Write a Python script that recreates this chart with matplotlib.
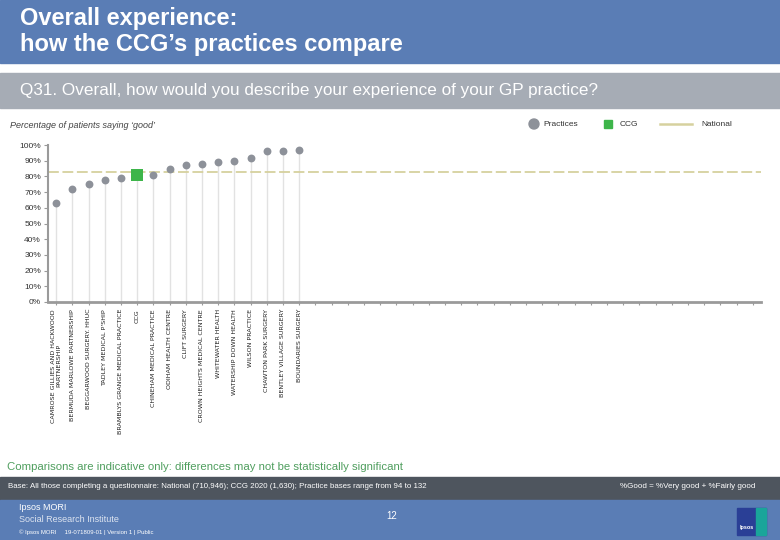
"""
Overall experience chart: practices vs CCG vs national (Q31).
"""

import matplotlib
matplotlib.use("Agg")
import matplotlib.pyplot as plt
from matplotlib.patches import Rectangle, Circle
from matplotlib.lines import Line2D

# ---------------------------------------------------------------------------
# Data
# ---------------------------------------------------------------------------
labels = [
    "CAMROSE GILLIES AND HACKWOOD\nPARTNERSHIP",
    "BERMUDA MARLOWE PARTNERSHIP",
    "BEGGARWOOD SURGERY. HHUC",
    "TADLEY MEDICAL P'SHIP",
    "BRAMBLYS GRANGE MEDICAL PRACTICE",
    "CCG",
    "CHINEHAM MEDICAL PRACTICE",
    "ODIHAM HEALTH CENTRE",
    "CLIFT SURGERY",
    "CROWN HEIGHTS MEDICAL CENTRE",
    "WHITEWATER HEALTH",
    "WATERSHIP DOWN HEALTH",
    "WILSON PRACTICE",
    "CHAWTON PARK SURGERY",
    "BENTLEY VILLAGE SURGERY",
    "BOUNDARIES SURGERY",
]
values = [63, 72, 75, 78, 79, 81, 81, 85, 87, 88, 89, 90, 92, 96, 96, 97]
ccg_index = 5
national = 83
n_slots = 44

yticks = [0, 10, 20, 30, 40, 50, 60, 70, 80, 90, 100]

BLUE = "#5a7db5"
GREY_BAR = "#a6acb5"
DARK_BAR = "#4e555e"
GREEN = "#3db54a"
POINT = "#8d9199"
NAT = "#d6d19e"
FONT = "Liberation Sans"

fig = plt.figure(figsize=(7.8, 5.4), dpi=100)

# full-figure overlay in pixel coordinates for banners and text
bg = fig.add_axes([0, 0, 1, 1], zorder=0)
bg.set_xlim(0, 780)
bg.set_ylim(540, 0)
bg.axis("off")

bg.add_patch(Rectangle((0, 0), 780, 63, color=BLUE))
bg.add_patch(Rectangle((0, 73), 780, 35, color=GREY_BAR))
bg.add_patch(Rectangle((0, 477), 780, 23, color=DARK_BAR))
bg.add_patch(Rectangle((0, 500), 780, 40, color=BLUE))

bg.text(20, 18, "Overall experience:", color="white", fontsize=17, weight="bold",
        family=FONT, va="center", ha="left")
bg.text(20, 45, "how the CCG\u2019s practices compare", color="white", fontsize=17,
        weight="bold", family=FONT, va="center", ha="left")
bg.text(20, 91, "Q31. Overall, how would you describe your experience of your GP practice?",
        color="white", fontsize=12.3, family=FONT, va="center", ha="left")
bg.text(10, 125, "Percentage of patients saying \u2018good\u2019", color="#444444",
        fontsize=6.5, style="italic", family=FONT, va="center", ha="left")

# legend
bg.add_patch(Circle((534, 124), 5, color=POINT))
bg.text(543, 124, "Practices", fontsize=6, color="#333333", family=FONT, va="center")
bg.add_patch(Rectangle((604, 120), 8, 8, color=GREEN))
bg.text(620, 124, "CCG", fontsize=6, color="#333333", family=FONT, va="center")
bg.add_line(Line2D([660, 692], [124, 124], color=NAT, lw=1.8))
bg.text(701, 124, "National", fontsize=6, color="#333333", family=FONT, va="center")

bg.text(7, 467, "Comparisons are indicative only: differences may not be statistically significant",
        fontsize=8.2, color="#4f9e5e", family=FONT, va="center")
bg.text(8, 487, "Base: All those completing a questionnaire: National (710,946); CCG 2020 (1,630); "
        "Practice bases range from 94 to 132", fontsize=5.7, color="white", family=FONT, va="center")
bg.text(620, 487, "%Good = %Very good + %Fairly good", fontsize=5.8, color="white",
        family=FONT, va="center")

bg.text(19, 508, "Ipsos MORI", fontsize=6.5, color="white", family=FONT, va="center")
bg.text(19, 519, "Social Research Institute", fontsize=6.5, color="#dde4f0", family=FONT, va="center")
bg.text(19, 532, "\u00a9 Ipsos MORI     19-071809-01 | Version 1 | Public", fontsize=4.3,
        color="white", family=FONT, va="center")
bg.text(392, 516, "12", fontsize=7, color="white", family=FONT, va="center", ha="center")

# logo
bg.add_patch(Rectangle((737, 508), 29, 27, color="#2a3f96"))
bg.add_patch(Rectangle((756, 508), 10, 27, color="#1aa59a"))
bg.text(747, 527, "Ipsos", fontsize=4, color="white", family=FONT, weight="bold",
        va="center", ha="center")

# ---------------------------------------------------------------------------
# Chart
# ---------------------------------------------------------------------------
ax = fig.add_axes([48 / 780, 1 - 302 / 540, (761 - 48) / 780, (302 - 145) / 540], zorder=1)
ax.set_facecolor("none")

xs = list(range(len(values)))
ax.vlines(xs, 0, values, color="#e2e2e2", lw=1, zorder=1)
ax.axhline(national, color=NAT, lw=1.3, dashes=(6, 2), zorder=2)

px = [x for i, x in enumerate(xs) if i != ccg_index]
pv = [v for i, v in enumerate(values) if i != ccg_index]
ax.scatter(px, pv, s=32, color=POINT, zorder=3, linewidths=0)
ax.scatter([xs[ccg_index]], [values[ccg_index]], s=75, marker="s", color=GREEN,
           zorder=4, linewidths=0)

ax.set_xlim(-0.5, n_slots - 0.5)
ax.set_ylim(0, 100)
ax.set_yticks(yticks)
ax.set_yticklabels([f"{t}%" for t in yticks], fontsize=6, color="#333333", family=FONT)
ax.set_xticks(range(n_slots))
ax.set_xticklabels(labels + [""] * (n_slots - len(labels)), rotation=90, fontsize=4.6,
                   color="#222222", family="DejaVu Sans", ha="center", va="top",
                   multialignment="center")

for s in ["top", "right"]:
    ax.spines[s].set_visible(False)
ax.spines["left"].set_color("#9a9a9a")
ax.spines["bottom"].set_color("#9a9a9a")
ax.spines["left"].set_linewidth(1.5)
ax.spines["bottom"].set_linewidth(2)
ax.tick_params(axis="y", length=3, color="#9a9a9a", pad=2)
ax.tick_params(axis="x", length=2, color="#9a9a9a", pad=3)

fig.savefig("out.png", dpi=100)
